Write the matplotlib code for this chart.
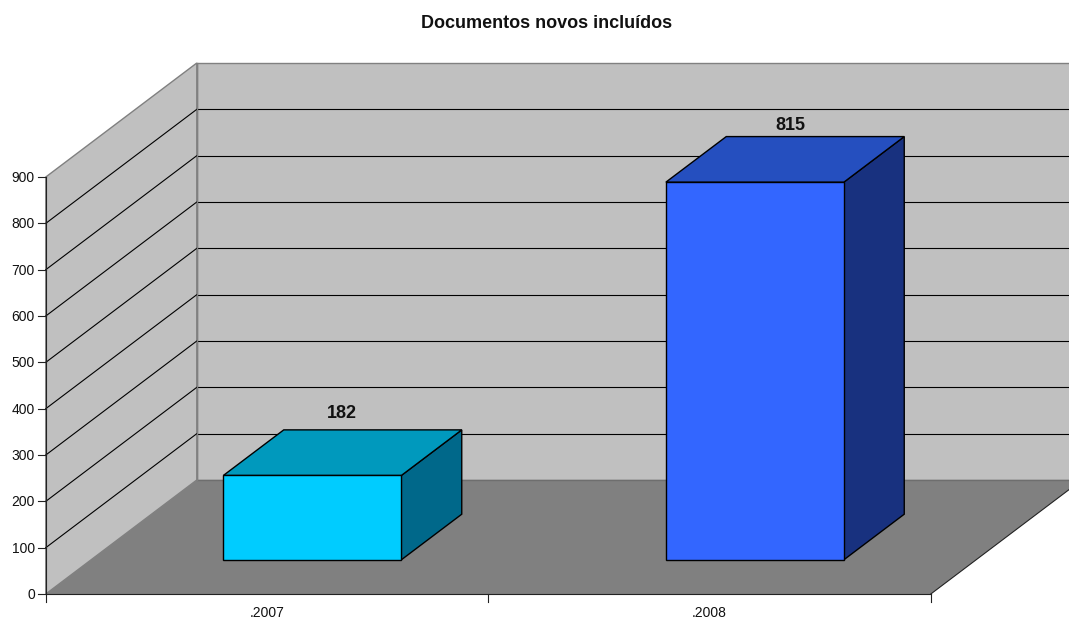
import matplotlib
matplotlib.use("Agg")
import matplotlib.pyplot as plt
from matplotlib.patches import Polygon

plt.rcParams['font.family'] = ['Liberation Sans', 'DejaVu Sans']

title = "Documentos novos incluídos"
categories = [".2007", ".2008"]
values = [182, 815]
bar_front = ["#00CCFF", "#3366FF"]
bar_top = ["#0099BD", "#254FBF"]
bar_side = ["#00688A", "#18317F"]
y_ticks = [0, 100, 200, 300, 400, 500, 600, 700, 800, 900]

W, H = 1069, 618
X0, X1 = 45.8, 930.8
Y0, YTOP = 594.0, 177.0
DX, DY = 151.0, -114.0
YMAX = y_ticks[-1]
BAR_W = 178.0 / (X1 - X0)      # bar width as a share of the axis length
D0, D1 = 0.30, 0.70            # depth range occupied by the bars
LABEL_OFF = [(-31, -16), (-25, -11)]


def proj(u, v, d=0.0):
    """u: 0-1 along category axis, v: value, d: 0-1 depth."""
    return (X0 + (X1 - X0) * u + DX * d,
            Y0 - (Y0 - YTOP) * v / YMAX + DY * d)


fig = plt.figure(figsize=(W / 100, H / 100), dpi=100, facecolor="white")
ax = fig.add_axes([0, 0, 1, 1])
ax.set_xlim(0, W)
ax.set_ylim(H, 0)
ax.axis("off")

GREY = "#808080"
WALL = "#C0C0C0"

# back wall and side wall
ax.add_patch(Polygon([proj(0, 0, 1), proj(1, 0, 1), proj(1, YMAX, 1), proj(0, YMAX, 1)],
                     fc=WALL, ec=GREY, lw=1.0, zorder=1))
ax.add_patch(Polygon([proj(0, 0, 0), proj(0, 0, 1), proj(0, YMAX, 1), proj(0, YMAX, 0)],
                     fc=WALL, ec=GREY, lw=1.0, zorder=1))
# floor
ax.add_patch(Polygon([proj(0, 0, 0), proj(1, 0, 0), proj(1, 0, 1), proj(0, 0, 1)],
                     fc=GREY, ec="none", zorder=2))
ax.plot(*zip(proj(1, 0, 0), proj(1, 0, 1)), color="#222222", lw=0.8, zorder=2.5)
ax.plot(*zip(proj(0, 0, 1), proj(1, 0, 1)), color="#6E6E6E", lw=1.0, zorder=2.5)

# gridlines on both walls
for t in y_ticks[1:-1]:
    ax.plot(*zip(proj(0, t, 0), proj(0, t, 1)), color="black", lw=0.8, zorder=3)
    ax.plot(*zip(proj(0, t, 1), proj(1, t, 1)), color="black", lw=0.8, zorder=3)
ax.plot(*zip(proj(0, 0, 1), proj(0, YMAX, 1)), color=GREY, lw=1.0, zorder=3)

# axes
ax.plot(*zip(proj(0, 0, 0), proj(0, YMAX, 0)), color="#222222", lw=0.8, zorder=4)
ax.plot(*zip(proj(0, 0, 0), proj(1, 0, 0)), color="#222222", lw=0.8, zorder=4)
for t in y_ticks:
    x, y = proj(0, t, 0)
    ax.plot([x - 8, x], [y, y], color="#222222", lw=0.8, zorder=4)
    ax.text(x - 11, y + 1, str(t), ha="right", va="center", fontsize=10, color="#111111")
for u in (0, 0.5, 1):
    x, y = proj(u, 0, 0)
    ax.plot([x, x], [y, y + 8], color="#222222", lw=0.8, zorder=4)

# bars
n = len(categories)
for i, (cat, val) in enumerate(zip(categories, values)):
    c = (i + 0.5) / n
    l, r = c - BAR_W / 2, c + BAR_W / 2
    ax.add_patch(Polygon([proj(r, 0, D0), proj(r, 0, D1), proj(r, val, D1), proj(r, val, D0)],
                         fc=bar_side[i], ec="black", lw=1.0, zorder=5))
    ax.add_patch(Polygon([proj(l, val, D0), proj(r, val, D0), proj(r, val, D1), proj(l, val, D1)],
                         fc=bar_top[i], ec="black", lw=1.0, zorder=5))
    ax.add_patch(Polygon([proj(l, 0, D0), proj(r, 0, D0), proj(r, val, D0), proj(l, val, D0)],
                         fc=bar_front[i], ec="black", lw=1.0, zorder=6))
    x, y = proj(c, val, D1)
    ax.text(x + LABEL_OFF[i][0], y + LABEL_OFF[i][1], str(val), ha="center", va="center",
            fontsize=13, fontweight="bold", color="#111111", zorder=7)
    xl, _ = proj(c, 0, 0)
    ax.text(xl, 617, cat, ha="center", va="baseline", fontsize=10, color="#111111")

ax.text(546.5, 24, title, ha="center", va="center", fontsize=13,
        fontweight="bold", color="#111111")

fig.savefig("out.png", dpi=100, facecolor="white")
